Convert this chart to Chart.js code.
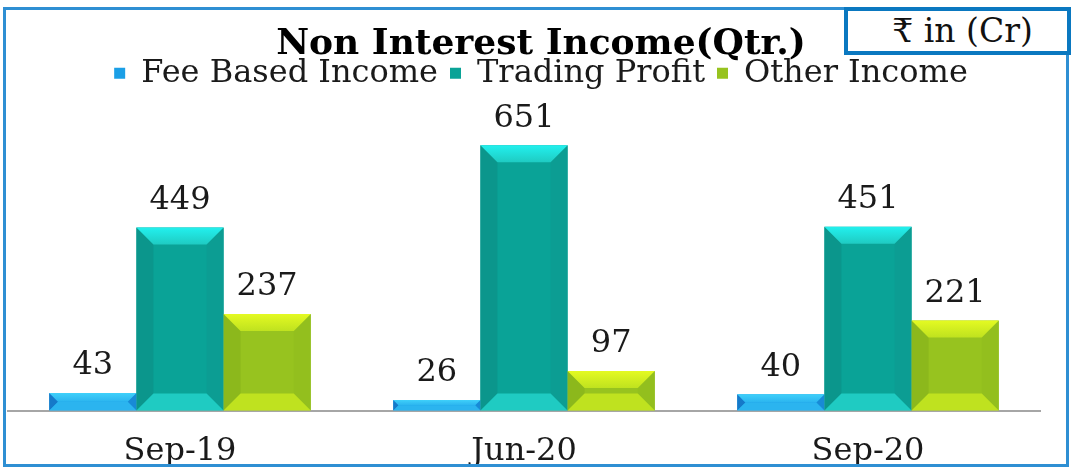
<!DOCTYPE html>
<html>
<head>
<meta charset="utf-8">
<title>Non Interest Income</title>
<script src="https://cdn.jsdelivr.net/npm/chart.js@4.4.0/dist/chart.umd.min.js"></script>
<style>
  html, body { margin: 0; padding: 0; background: #fff; }
  #wrap { position: relative; width: 1072px; height: 470px; overflow: hidden; }
  #frame { position: absolute; left: 3px; top: 7px; width: 1060px; height: 454px; border: 3px solid #2e8fd3; pointer-events: none; }
  #unit { position: absolute; left: 844px; top: 7px; width: 209px; height: 40px; padding-left: 10px; border: 4px solid #0a78c0; background: #fff;
          font: 33px "DejaVu Serif", serif; color: #111; text-align: center; line-height: 40px; }
</style>
</head>
<body>
<div id="wrap">
  <canvas id="myChart" width="1072" height="470"></canvas>
  <div id="frame"></div>
  <div id="unit">₹ in (Cr)</div>
</div>
<script>
// chart data
const quarters = ['Sep-19', 'Jun-20', 'Sep-20'];
const seriesNames = ['Fee Based Income', 'Trading Profit', 'Other Income'];
const feeBased = [43, 26, 40];
const tradingProfit = [449, 651, 451];
const otherIncome = [237, 97, 221];

// face / bevel colours per series
const barTones = [
  { face: '#1b9fe6', top: '#3fd0fa', bottom: '#2bb4ef', left: '#1579c9', right: '#188ad6' },
  { face: '#0aa397', top: '#22f0ee', bottom: '#1fcbc2', left: '#0b968c', right: '#0c9d93' },
  { face: '#97c31f', top: '#e4fa22', bottom: '#bfe21f', left: '#8cb81c', right: '#93bf1e' }
];

function poly(ctx, pts, color) {
  ctx.beginPath();
  ctx.moveTo(pts[0][0], pts[0][1]);
  for (let i = 1; i < pts.length; i++) ctx.lineTo(pts[i][0], pts[i][1]);
  ctx.closePath();
  ctx.fillStyle = color;
  ctx.fill();
}

// bevel look on every bar
const bevelBars = {
  id: 'bevelBars',
  afterDatasetsDraw(chart) {
    const ctx = chart.ctx;
    ctx.save();
    chart.data.datasets.forEach((ds, i) => {
      const meta = chart.getDatasetMeta(i);
      const tone = barTones[i];
      meta.data.forEach(bar => {
        const p = bar.getProps(['x', 'y', 'base', 'width'], true);
        const l = p.x - p.width / 2, r = p.x + p.width / 2, t = p.y, b = p.base;
        const d = Math.min(17, (b - t) / 2, p.width / 2);
        const g = ctx.createLinearGradient(0, t, 0, t + d);
        g.addColorStop(0, tone.top);
        g.addColorStop(1, tone.bottom);
        poly(ctx, [[l, t], [l + d, t + d], [l + d, b - d], [l, b]], tone.left);
        poly(ctx, [[r, t], [r - d, t + d], [r - d, b - d], [r, b]], tone.right);
        poly(ctx, [[l, b], [r, b], [r - d, b - d], [l + d, b - d]], tone.bottom);
        poly(ctx, [[l, t], [r, t], [r - d, t + d], [l + d, t + d]], g);
      });
    });
    ctx.restore();
  }
};

// value labels above the bars
const valueLabels = {
  id: 'valueLabels',
  afterDatasetsDraw(chart) {
    const ctx = chart.ctx;
    ctx.save();
    ctx.font = '32px "DejaVu Serif"';
    ctx.fillStyle = '#1a1a1a';
    ctx.textAlign = 'center';
    ctx.textBaseline = 'bottom';
    chart.data.datasets.forEach((ds, i) => {
      chart.getDatasetMeta(i).data.forEach((bar, j) => {
        ctx.fillText(ds.data[j], bar.x, bar.y - 11);
      });
    });
    ctx.restore();
  }
};

const ctx = document.getElementById('myChart');
const myChart = new Chart(ctx, {
  type: 'bar',
  data: {
    labels: quarters,
    datasets: [
      { label: seriesNames[0], data: feeBased, backgroundColor: barTones[0].face },
      { label: seriesNames[1], data: tradingProfit, backgroundColor: barTones[1].face },
      { label: seriesNames[2], data: otherIncome, backgroundColor: barTones[2].face }
    ]
  },
  plugins: [bevelBars, valueLabels],
  options: {
    responsive: false,
    animation: false,
    datasets: {
      bar: { categoryPercentage: 0.76, barPercentage: 1.0 }
    },
    layout: { padding: { left: 8, right: -2, top: 16, bottom: -15 } },
    plugins: {
      title: {
        display: true,
        text: 'Non Interest Income(Qtr.)',
        color: '#000',
        font: { family: 'DejaVu Serif', size: 36, weight: 'bold' },
        padding: { top: 7, bottom: -21 }
      },
      legend: {
        display: true,
        position: 'top',
        labels: {
          color: '#1a1a1a',
          font: { family: 'DejaVu Serif', size: 32 },
          boxWidth: 11,
          boxHeight: 11,
          padding: 12
        }
      },
      tooltip: { enabled: false }
    },
    scales: {
      x: {
        grid: { display: false },
        border: { display: true, color: '#a6a6a6', width: 2 },
        ticks: {
          color: '#1a1a1a',
          font: { family: 'DejaVu Serif', size: 32 },
          padding: 14
        }
      },
      y: {
        // kept invisible on the right so the plot ends short of the title box
        position: 'right',
        min: 0,
        max: 764,
        grid: { display: false },
        border: { display: false },
        ticks: { display: false },
        afterFit(scale) { scale.width = 34; }
      }
    }
  }
});
</script>
</body>
</html>
